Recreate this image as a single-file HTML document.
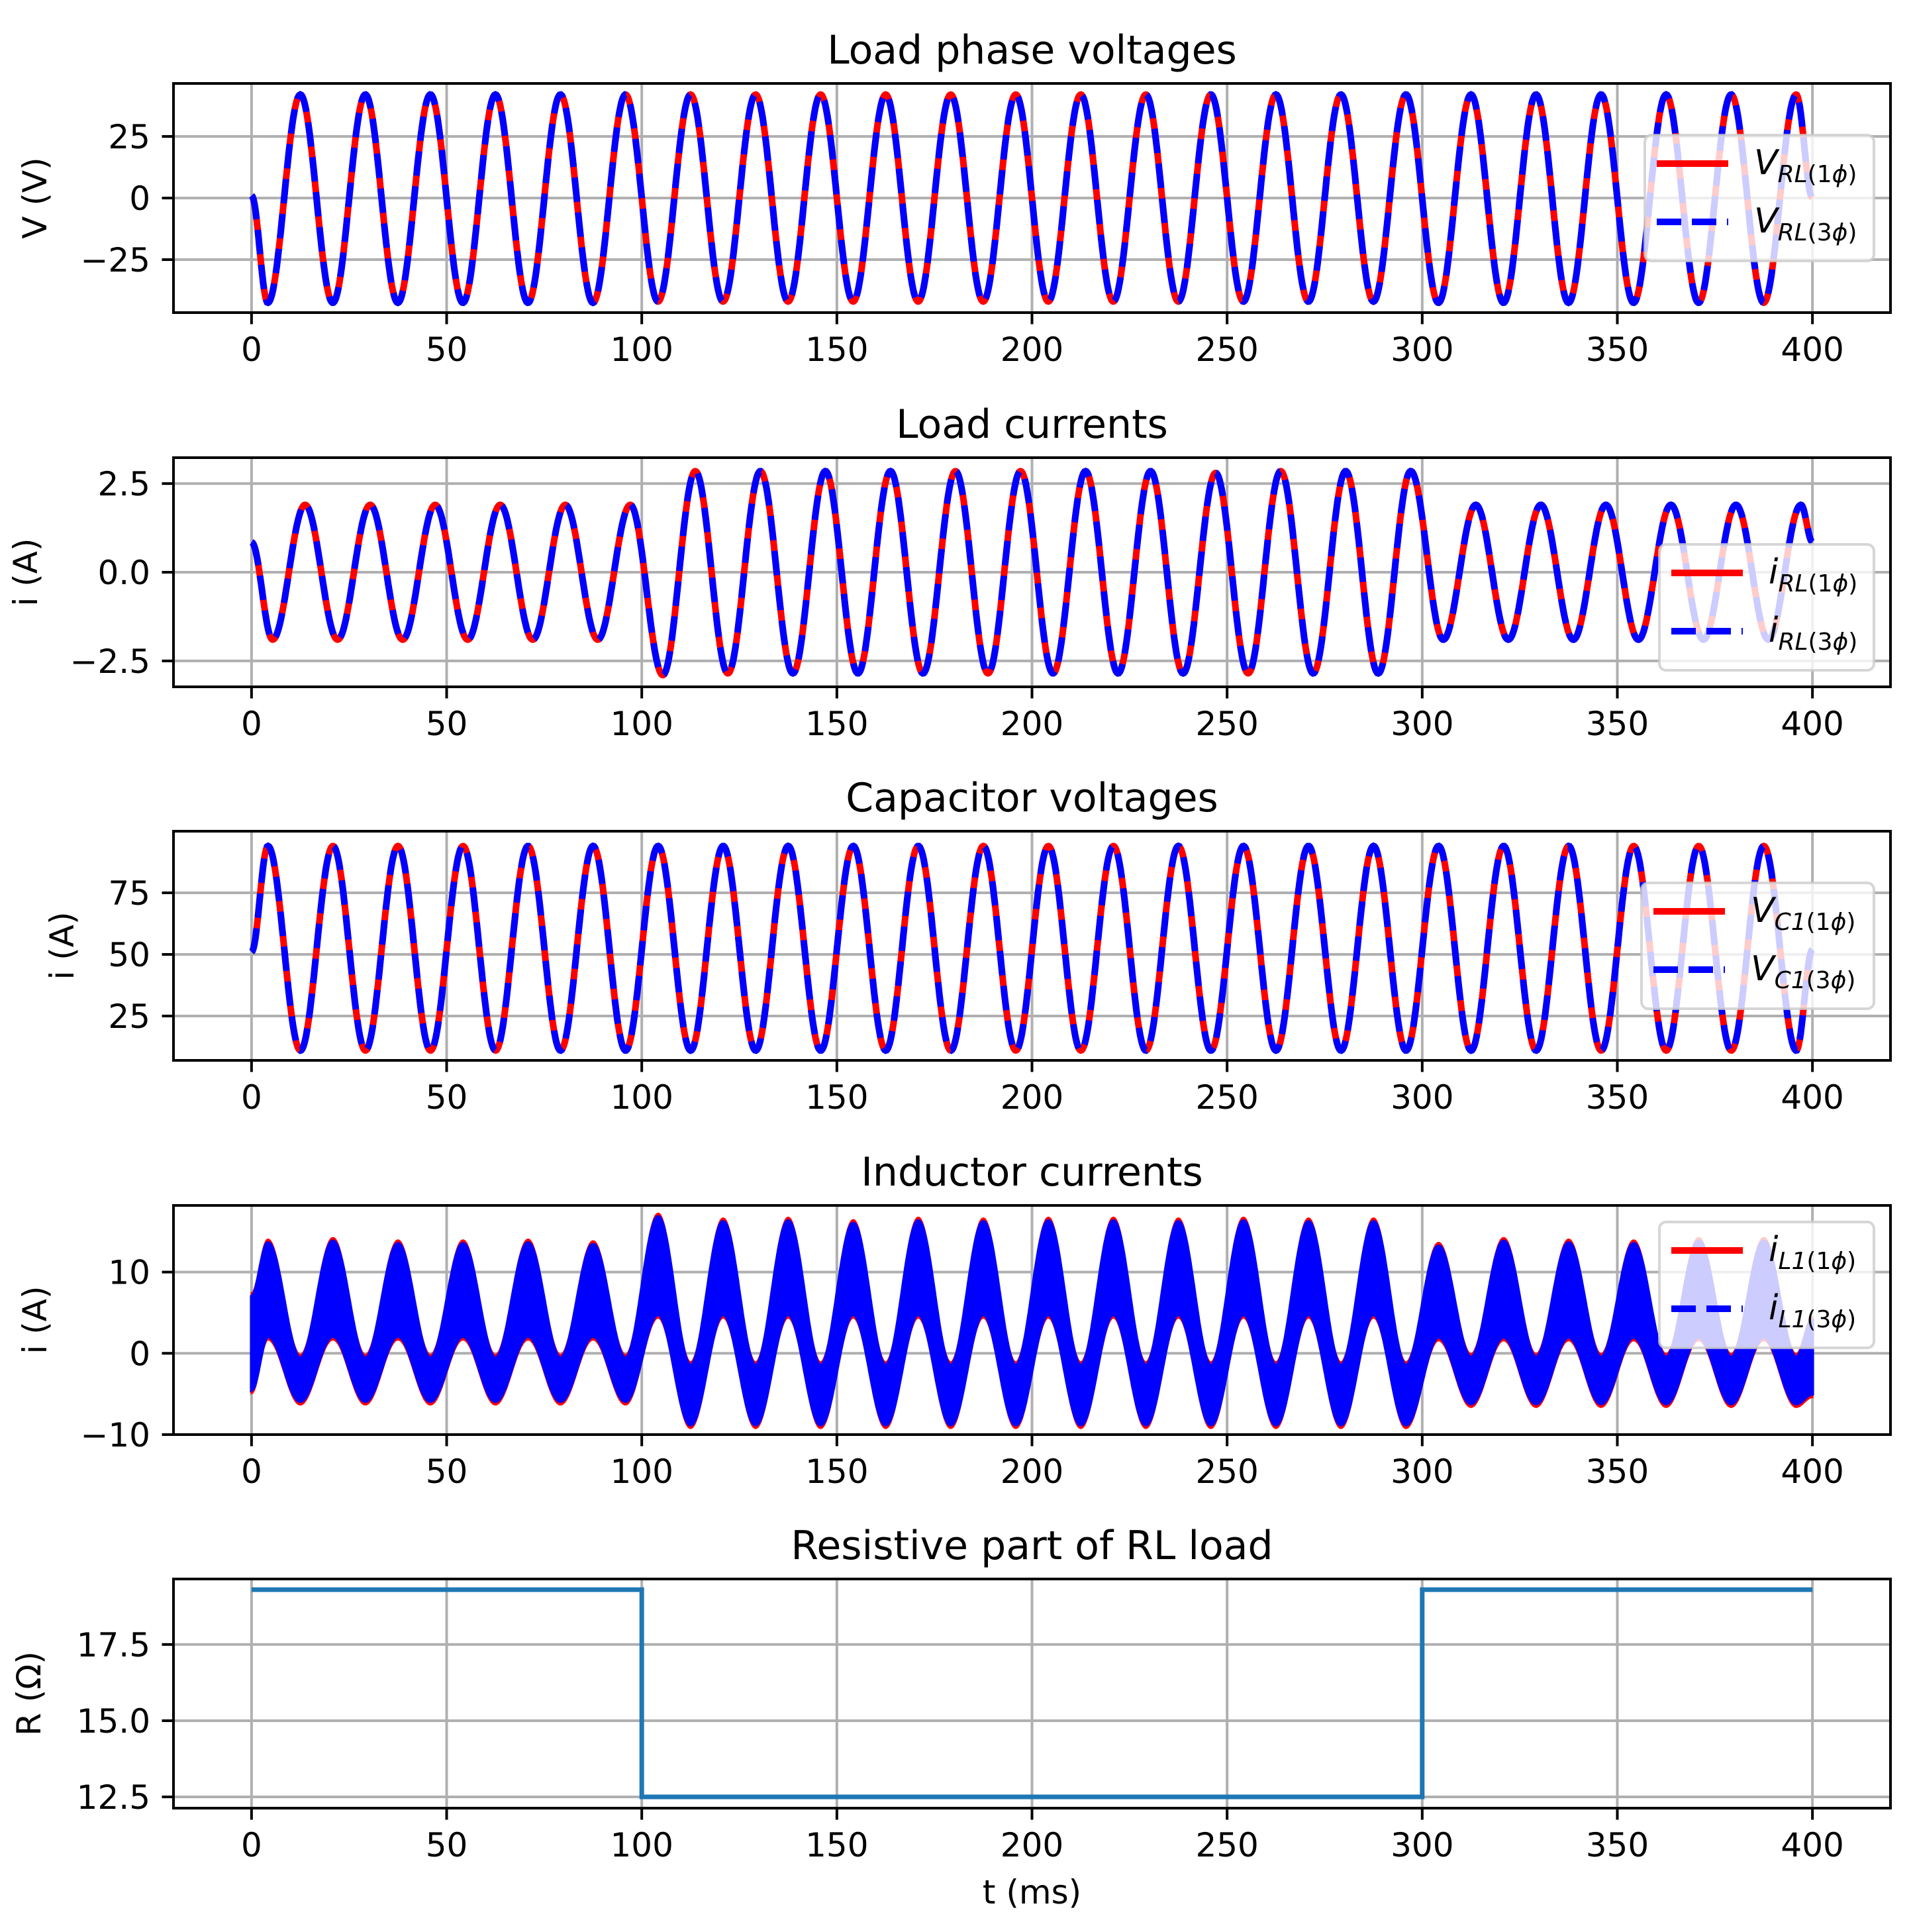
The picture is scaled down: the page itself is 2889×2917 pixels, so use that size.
<!DOCTYPE html>
<html><head><meta charset="utf-8"><style>
html,body{margin:0;padding:0;background:#fff;}
svg text{font-family:"DejaVu Sans","Liberation Sans",sans-serif;}
</style></head><body>
<svg id="fig" xmlns="http://www.w3.org/2000/svg" width="2889" height="2912" viewBox="0 0 2889 2912">
<rect width="2889" height="2912" fill="#fff"/>
</svg>
<script>
// ---- data ----
const xTicks = [0,50,100,150,200,250,300,350,400];
// Load phase voltage extremes (first = trough at 4.17ms, every half period)
const vStart = 1, vEnd = 0;
const vExtremes = [-42.5,42,-42.5,42,-42.5,42,-42.5,42,-42.5,42,-42.5,42,-42,42,-42,42,-42,42,-42,42,-42,42,-42,42,-42,42,-42,42,-42,42,-42,42,-42,42,-42,42,-42.5,42,-42.5,42,-42.5,42,-42.5,42,-42.5,42,-42.5,42];
// Load current extremes (first = trough at 5.4ms)
const iStart = 0.85, iEnd = 0.85;
const iExtremes = [-1.9,1.9,-1.9,1.9,-1.9,1.9,-1.9,1.9,-1.9,1.9,-1.9,1.9,-2.9,2.85,-2.85,2.85,-2.85,2.85,-2.85,2.85,-2.85,2.85,-2.85,2.85,-2.85,2.85,-2.85,2.85,-2.85,2.8,-2.85,2.85,-2.85,2.85,-2.85,2.85,-1.9,1.9,-1.9,1.9,-1.9,1.9,-1.9,1.9,-1.9,1.9,-1.9,1.9];
// Capacitor voltage extremes (first = peak at 4.2ms)
const cStart = 51, cEnd = 52;
const cExtremes = [94,11,94,11,94,11,94,11,94,11,94,11,94,11,94,11,94,11,94,11,94,11,94,11,94,11,94,11,94,11,94,11,94,11,94,11,94,11,94,11,94,11,94,11,94,11,94,11];
// Inductor current band envelopes (per cycle)
const ilUpperPeaks   = [13.6,13.8,13.5,13.5,13.6,13.4,16.8,16.2,16.3,16.0,16.3,16.2,16.3,16.3,16.2,16.3,16.2,16.2,13.2,13.8,13.6,13.5,13.8,13.8];
const ilUpperTroughs = [-0.6,-0.6,-0.6,-0.6,-0.6,-0.6,-1.5,-1.5,-1.5,-1.5,-1.5,-1.5,-1.5,-1.5,-1.5,-1.5,-1.5,-1.5,-0.5,-0.5,-0.5,-0.5,-0.5,-0.5];
const ilLowerPeaks   = [2.1,2.1,2.1,2.1,2.1,2.1,4.8,4.8,4.8,4.8,4.8,4.8,4.8,4.8,4.8,4.8,4.8,4.8,2.0,2.0,2.0,2.0,2.0,2.0];
const ilLowerTroughs = [-5.9,-5.9,-5.9,-5.9,-5.9,-5.9,-8.8,-8.8,-8.8,-8.8,-8.8,-8.8,-8.8,-8.8,-8.8,-8.8,-8.8,-8.8,-6.2,-6.2,-6.2,-6.2,-6.2,-6.2];
const ilUpperStart = 7, ilUpperEnd = 4, ilLowerStart = -4.5, ilLowerEnd = -5;
// Resistance steps
const rTimes = [0,100,100,300,300,400];
const rValues = [19.3,19.3,12.5,12.5,19.3,19.3];

// ---- layout ----
const NS="http://www.w3.org/2000/svg";
const svg=document.getElementById('fig');
const X0=262, X1=2855, XMIN=-20, XMAX=420, H=346;
const HALF=1000/120;
function sx(t){return X0+(t-XMIN)/(XMAX-XMIN)*(X1-X0);}
function mk(tag,attrs,parent){const e=document.createElementNS(NS,tag);for(const k in attrs)e.setAttribute(k,attrs[k]);(parent||svg).appendChild(e);return e;}

function knotsFrom(start,firstT,ext,end){const k=[[0,start]];ext.forEach((v,i)=>k.push([firstT+i*HALF,v]));k.push([400,end]);return k;}
function interp(knots,t){for(let i=0;i<knots.length-1;i++){const a=knots[i],b=knots[i+1];if(t<=b[0]){const f=(t-a[0])/(b[0]-a[0]||1);const w=(1-Math.cos(Math.PI*f))/2;return a[1]+(b[1]-a[1])*w;}}return knots[knots.length-1][1];}
function envKnots(start,peaks,troughs,end){const k=[[0,start]];for(let i=0;i<peaks.length;i++){k.push([4.2+2*i*HALF,peaks[i]]);k.push([12.5+2*i*HALF,troughs[i]]);}k.push([400,end]);return k;}

function makeAxes(name,top,ymin,ymax,yTicks,yFmt,title,ylabel,ylabX){
  const g=mk('g',{});
  
  
  const sy=v=>top+H-(v-ymin)/(ymax-ymin)*H;
  const grid=mk('g',{},g);
  
  
  xTicks.forEach(t=>{mk('line',{x1:sx(t),x2:sx(t),y1:top,y2:top+H,stroke:'#b0b0b0','stroke-width':4},grid);});
  yTicks.forEach(v=>{mk('line',{x1:X0,x2:X1,y1:sy(v),y2:sy(v),stroke:'#b0b0b0','stroke-width':4},grid);});
  const plot=mk('g',{},g);
  const ax=mk('g',{},g);
  
  
  xTicks.forEach(t=>{
    mk('line',{x1:sx(t),x2:sx(t),y1:top+H,y2:top+H+17.5,stroke:'#000','stroke-width':4},ax);
    const tx=mk('text',{x:sx(t),y:top+H+73,'font-size':50,'text-anchor':'middle'},ax);
    
    
    tx.textContent=t;
  });
  yTicks.forEach(v=>{
    mk('line',{x1:X0-17.5,x2:X0,y1:sy(v),y2:sy(v),stroke:'#000','stroke-width':4},ax);
    const tx=mk('text',{x:X0-35,y:sy(v)+18,'font-size':50,'text-anchor':'end'},ax);
    
    
    tx.textContent=yFmt(v).replace('-','\u2212');
  });
  const tt=mk('text',{x:(X0+X1)/2,y:top-30,'font-size':60,'text-anchor':'middle'},ax);
  
  
  tt.textContent=title;
  const yl=mk('text',{x:0,y:0,'font-size':50,'text-anchor':'middle',transform:`translate(${ylabX+18},${top+H/2}) rotate(-90)`},ax);
  
  
  yl.textContent=ylabel;
  return {g,plot,ax,sy,top};
}
function frame(A){mk('rect',{x:X0,y:A.top,width:X1-X0,height:H,fill:'none',stroke:'#000','stroke-width':4},A.g);}
function clip(A,id){const d=mk('clipPath',{id:id});mk('rect',{x:X0,y:A.top,width:X1-X0,height:H},d);A.plot.setAttribute('clip-path',`url(#${id})`);}
function curvePath(knots,sy){let d='';for(let t=0;t<=400.0001;t+=0.25){d+=(d?'L':'M')+sx(t).toFixed(1)+','+sy(interp(knots,t)).toFixed(1);}return d;}
function legend(A,left,top,label1,label2,sub1,sub2){
  const lg=mk('g',{},A.g);
  
  
  mk('rect',{x:left,y:top,width:2830-left,height:190,rx:10,fill:'rgba(255,255,255,0.8)',stroke:'rgba(204,204,204,0.8)','stroke-width':4},lg);
  const rows=[[label1,sub1,'#ff0000',null],[label2,sub2,'#0000ff','37 16']];
  rows.forEach((r,i)=>{
    const y=top+43+i*88;
    const e=mk('g',{},lg);
    
    
    const ln=mk('line',{x1:left+18,x2:left+126,y1:y,y2:y,stroke:r[2],'stroke-width':10},e);
    if(r[3]) ln.setAttribute('stroke-dasharray',r[3]);
    const tx=mk('text',{x:left+165,y:y+16,'font-size':52},e);
    const m=mk('tspan',{'font-style':'italic'},tx);m.textContent=r[0];
    const s=mk('tspan',{'font-size':36,dy:12},tx);
    const s1=mk('tspan',{'font-style':'italic'},s);s1.textContent=r[1][0];
    const s2=mk('tspan',{},s);s2.textContent=r[1][1];
    const s3=mk('tspan',{'font-style':'italic'},s);s3.textContent='\u03d5';
    const s4=mk('tspan',{},s);s4.textContent=')';
  });
}
function twoLines(A,knots,name){
  const p1=mk('path',{d:curvePath(knots,A.sy),fill:'none',stroke:'#ff0000','stroke-width':10,'stroke-linejoin':'round'},A.plot);
  
  
  const p2=mk('path',{d:curvePath(knots,A.sy),fill:'none',stroke:'#0000ff','stroke-width':10,'stroke-dasharray':'37 16'},A.plot);
  
  
}
const f0=v=>String(v), f1=v=>v.toFixed(1);

// Panel 1
const A1=makeAxes('voltage-panel',126,-46.5,46.5,[-25,0,25],f0,'Load phase voltages','V (V)',52);
clip(A1,'c1');
twoLines(A1,knotsFrom(vStart,4.17,vExtremes,vEnd),'load-voltage');
frame(A1);
legend(A1,2484,204,'V','V',['RL','(1'],['RL','(3']);

// Panel 2
const A2=makeAxes('current-panel',691,-3.23,3.23,[-2.5,0,2.5],f1,'Load currents','i (A)',38);
clip(A2,'c2');
twoLines(A2,knotsFrom(iStart,5.4,iExtremes,iEnd),'load-current');
frame(A2);
legend(A2,2506,822,'i','i',['RL','(1'],['RL','(3']);

// Panel 3
const A3=makeAxes('capacitor-panel',1255,7,100,[25,50,75],f0,'Capacitor voltages','i (A)',93);
clip(A3,'c3');
twoLines(A3,knotsFrom(cStart,4.2,cExtremes,cEnd),'capacitor-voltage');
frame(A3);
legend(A3,2479,1333,'V','V',['C1','(1'],['C1','(3']);

// Panel 4
const A4=makeAxes('inductor-panel',1820,-10,18.2,[-10,0,10],f0,'Inductor currents','i (A)',52);
clip(A4,'c4');
(function(){
  const up=envKnots(ilUpperStart,ilUpperPeaks,ilUpperTroughs,ilUpperEnd);
  const lo=envKnots(ilLowerStart,ilLowerPeaks,ilLowerTroughs,ilLowerEnd);
  function band(off){let a=[],b=[];for(let t=0;t<=400.0001;t+=0.25){a.push(sx(t).toFixed(1)+','+A4.sy(interp(up,t)+off).toFixed(1));b.push(sx(t).toFixed(1)+','+A4.sy(interp(lo,t)-off).toFixed(1));}return 'M'+a.join('L')+'L'+b.reverse().join('L')+'Z';}
  const r=mk('path',{d:band(0.4),fill:'#ff0000',stroke:'#ff0000','stroke-width':3},A4.plot);
  
  
  const b=mk('path',{d:band(0),fill:'#0000ff',stroke:'#0000ff','stroke-width':5},A4.plot);
  
  
})();
frame(A4);
legend(A4,2506,1845,'i','i',['L1','(1'],['L1','(3']);

// Panel 5
const A5=makeAxes('resistance-panel',2384,12.13,19.65,[12.5,15,17.5],f1,'Resistive part of RL load','R (\u03a9)',43);
clip(A5,'c5');
(function(){
  let d='';rTimes.forEach((t,i)=>{d+=(i?'L':'M')+sx(t).toFixed(1)+','+A5.sy(rValues[i]).toFixed(1);});
  const p=mk('path',{d:d,fill:'none',stroke:'#1f77b4','stroke-width':7},A5.plot);
  
  
})();
frame(A5);
const xl=mk('text',{x:(X0+X1)/2,y:2874,'font-size':50,'text-anchor':'middle'});


xl.textContent='t (ms)';
</script>
</body></html>
